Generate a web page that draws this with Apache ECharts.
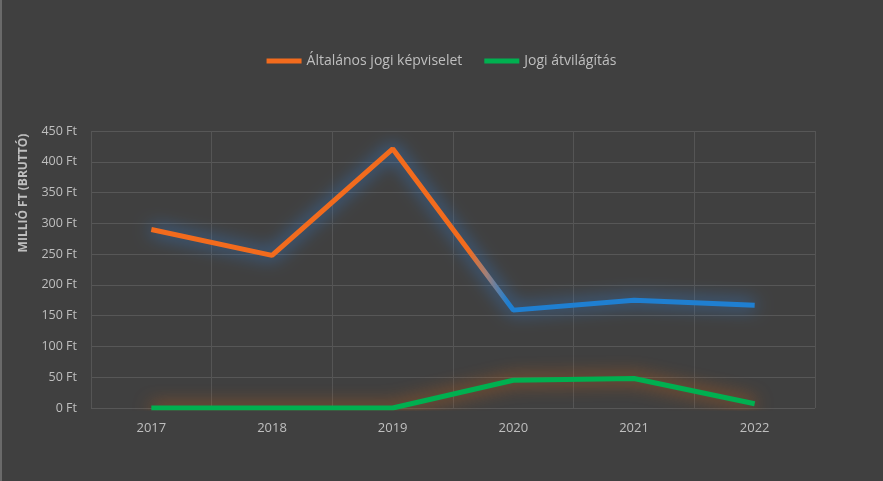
<!DOCTYPE html>
<html><head><meta charset="utf-8">
<script src="https://cdn.jsdelivr.net/npm/echarts@6/dist/echarts.min.js"></script>
<style>html,body{margin:0;padding:0;background:#404040}#c{width:883px;height:481px}</style>
</head><body><div id="c"></div>
<script>
const years = ['2017','2018','2019','2020','2021','2022'];
const altalanos = [290, 248, 421, 159, 175, 167];
const atvilagitas = [0, 0, 0, 45, 48, 7];
const seriesNames = ['Általános jogi képviselet', 'Jogi átvilágítás'];
const yTicks = {min: 0, max: 450, interval: 50};

const font = '"Open Sans", "Liberation Sans", sans-serif';
const txt = '#bfbfbf';
const chart = echarts.init(document.getElementById('c'));
const orangeBlue = new echarts.graphic.LinearGradient(0, 0, 1, 0, [
  {offset: 0, color: '#f26b1d'},
  {offset: 0.525, color: '#f26b1d'},
  {offset: 0.555, color: '#a0807a'},
  {offset: 0.59, color: '#1f7fd1'},
  {offset: 1, color: '#1f7fd1'}
]);
chart.setOption({
  backgroundColor: '#404040',
  animation: false,
  legend: {
    top: 49, left: 'center', itemGap: 22, itemWidth: 35, itemHeight: 5,
    icon: 'rect',
    textStyle: {color: txt, fontFamily: font, fontSize: 14},
    data: [{name: seriesNames[0], itemStyle: {color: '#f26b1d'}}, {name: seriesNames[1], itemStyle: {color: '#00b050'}}]
  },
  grid: {left: 91, right: 68, top: 131, bottom: 73, containLabel: false},
  xAxis: {
    type: 'category', data: years, boundaryGap: true,
    axisLine: {show: false}, axisTick: {show: false},
    axisLabel: {color: txt, fontFamily: font, fontSize: 13, margin: 14},
    splitLine: {show: true, lineStyle: {color: '#555555', width: 1}}
  },
  yAxis: {
    type: 'value', min: yTicks.min, max: yTicks.max, interval: yTicks.interval,
    axisLine: {show: false}, axisTick: {show: false},
    axisLabel: {color: txt, fontFamily: font, fontSize: 12.5, margin: 14, formatter: v => v + ' Ft'},
    splitLine: {lineStyle: {color: '#575757', width: 1}}
  },
  graphic: [{
    type: 'text', x: 24, y: 193, rotation: Math.PI / 2,
    style: {text: 'MILLIÓ FT (BRUTTÓ)', fill: txt, font: 'bold 12px ' + font, textAlign: 'center', textVerticalAlign: 'middle'}
  }, {
    type: 'rect', shape: {x: 0, y: 0, width: 2, height: 481}, style: {fill: '#6a6a6a'}
  }],
  series: [{
    name: seriesNames[0], type: 'line', data: altalanos, symbol: 'none',
    lineStyle: {width: 5, color: orangeBlue, shadowColor: 'rgba(50,130,220,1)', shadowBlur: 18},
    itemStyle: {color: '#f26b1d'}
  }, {
    name: seriesNames[1], type: 'line', data: atvilagitas, symbol: 'none',
    lineStyle: {width: 5, color: '#00b050', shadowColor: 'rgba(210,100,20,0.95)', shadowBlur: 18},
    itemStyle: {color: '#00b050'}
  }]
});
</script></body></html>
